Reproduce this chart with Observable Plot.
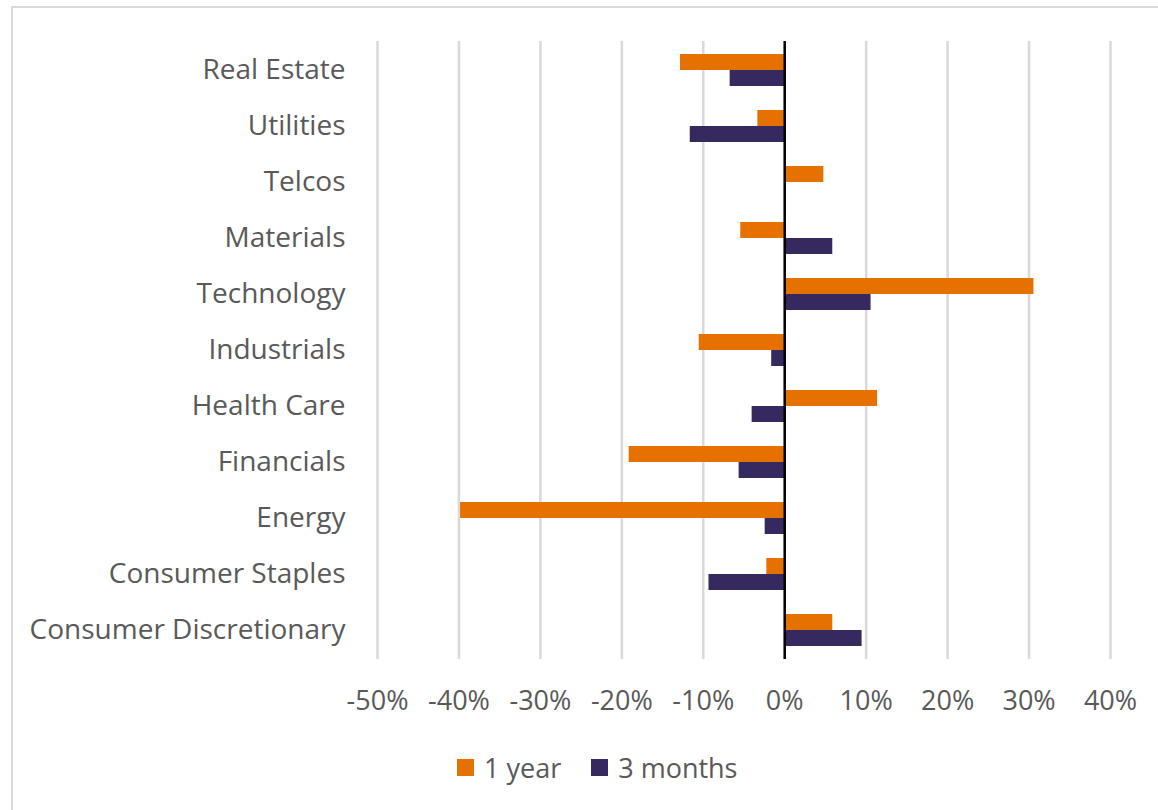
<!DOCTYPE html>
<html>
<head>
<meta charset="utf-8">
<script src="https://cdn.jsdelivr.net/npm/d3@7"></script>
<script src="https://cdn.jsdelivr.net/npm/@observablehq/plot@0.6"></script>
<style>
  html, body { margin: 0; padding: 0; background: #fff; }
  body { width: 1158px; height: 810px; position: relative; overflow: hidden; font-family: "Open Sans", Lato, sans-serif; }
  #frame { position: absolute; left: 11px; top: 6px; width: 1200px; height: 900px; border: 2px solid #d9d9d9; box-sizing: border-box; }
  #chart { position: absolute; left: 0; top: 0; }
  #legend { position: absolute; top: 749px; left: 457px; display: flex; align-items: center; font-size: 27px; color: #595959; }
  #legend .sw { width: 17px; height: 17px; display: inline-block; margin-right: 10px; }
  #legend .item { display: flex; align-items: center; margin-right: 30px; }
  #chart svg g[aria-label="y-axis tick label"] { font-size: 28px; }
  #chart svg g[aria-label="x-axis tick label"] { font-size: 27px; }
</style>
</head>
<body>
<div id="frame"></div>
<div id="chart"></div>
<div id="legend"></div>
<script>
const categories = ["Real Estate", "Utilities", "Telcos", "Materials", "Technology", "Industrials", "Health Care", "Financials", "Energy", "Consumer Staples", "Consumer Discretionary"];
const oneYear   = [-12.8, -3.3, 4.8, -5.4, 30.6, -10.5, 11.4, -19.1, -39.8, -2.2, 5.9];
const threeMonths = [-6.7, -11.6, 0, 5.9, 10.6, -1.6, -4.0, -5.6, -2.4, -9.3, 9.5];
const seriesNames = ["1 year", "3 months"];
const seriesColors = ["#E57200", "#35295F"];
const xTicks = [-50, -40, -30, -20, -10, 0, 10, 20, 30, 40];

const rows1 = categories.map((c, i) => ({category: c, value: oneYear[i] / 100}));
const rows3 = categories.map((c, i) => ({category: c, value: threeMonths[i] / 100}));

const textColor = "#595959";

const plot = Plot.plot({
  width: 1158,
  height: 730,
  marginLeft: 377,
  marginRight: 48,
  marginTop: 41,
  marginBottom: 71,
  style: {fontFamily: "'Open Sans', Lato, sans-serif", fontSize: "27px", color: textColor, background: "transparent"},
  x: {domain: [-0.5, 0.4], ticks: xTicks.map(d => d / 100), tickFormat: d => Math.round(d * 100) + "%", tickSize: 0, tickPadding: 31, label: null},
  y: {domain: categories, padding: 0, tickSize: 0, tickPadding: 32, label: null},
  marks: [
    Plot.ruleX(xTicks.map(d => d / 100), {stroke: "#d9d9d9", strokeWidth: 2.5}),
    Plot.barX(rows1, {y: "category", x: "value", fill: seriesColors[0], insetTop: 12, insetBottom: 28}),
    Plot.barX(rows3, {y: "category", x: "value", fill: seriesColors[1], insetTop: 28, insetBottom: 12}),
    Plot.ruleX([0], {stroke: "#000", strokeWidth: 2.5})
  ]
});
document.getElementById("chart").appendChild(plot);

const legend = document.getElementById("legend");
seriesNames.forEach((name, i) => {
  const item = document.createElement("div");
  item.className = "item";
  const sw = document.createElement("span");
  sw.className = "sw";
  sw.style.background = seriesColors[i];
  const label = document.createElement("span");
  label.textContent = name;
  item.appendChild(sw);
  item.appendChild(label);
  legend.appendChild(item);
});
</script>
</body>
</html>
